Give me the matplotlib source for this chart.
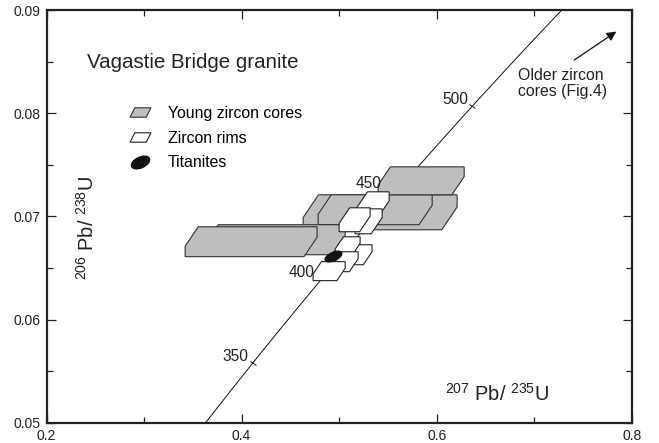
import numpy as np
import matplotlib
matplotlib.use('Agg')
import matplotlib.pyplot as plt
from matplotlib.patches import Polygon
from matplotlib.path import Path
from matplotlib.markers import MarkerStyle
from matplotlib.transforms import Affine2D
from matplotlib.lines import Line2D

plt.rcParams['font.family'] = ['Liberation Sans', 'DejaVu Sans']
plt.rcParams['mathtext.fontset'] = 'custom'
plt.rcParams['mathtext.rm'] = 'Liberation Sans'

# decay constants (1/yr) for the concordia curve
lam238 = 1.55125e-10
lam235 = 9.8485e-10
age_ticks = [350, 400, 450, 500]

# young zircon cores (2 sigma boxes): x = 207Pb/235U, y = 206Pb/238U
core_x_lo = [0.4631, 0.4785, 0.3626, 0.3421, 0.5400]
core_x_hi = [0.6210, 0.5954, 0.5062, 0.4774, 0.6282]
core_y_lo = [0.06870, 0.06919, 0.06628, 0.06609, 0.07209]
core_y_hi = [0.07209, 0.07209, 0.06919, 0.06899, 0.07480]

# zircon rims
rim_x_lo = [0.5174, 0.5164, 0.5000, 0.5082, 0.4959, 0.4938, 0.4733]
rim_x_hi = [0.5513, 0.5441, 0.5318, 0.5338, 0.5215, 0.5195, 0.5062]
rim_y_lo = [0.06986, 0.06831, 0.06851, 0.06531, 0.06619, 0.06464, 0.06377]
rim_y_hi = [0.07238, 0.07073, 0.07083, 0.06725, 0.06802, 0.06657, 0.06561]

# titanite
tit_x = [0.4933]
tit_y = [0.06616]


def hexbox(x0, x1, y0, y1, cut=0.65, slope=0.14):
    # error box with the two corners off the correlation cut away
    dy = (y1 - y0) * cut
    dx = dy / slope
    return [(x0, y0), (x0, y1 - dy), (x0 + dx, y1), (x1, y1),
            (x1, y0 + dy), (x1 - dx, y0)]


fig = plt.figure(figsize=(6.59, 4.43), dpi=100)
ax = fig.add_axes([0.0706, 0.0458, 0.888, 0.9316])
ax.set_xlim(0.2, 0.8)
ax.set_ylim(0.05, 0.09)

# concordia
t = np.linspace(280e6, 620e6, 400)
ax.plot(np.exp(lam235 * t) - 1, np.exp(lam238 * t) - 1, color='#111111', lw=0.7, zorder=1)

ta = np.array(age_ticks) * 1e6
tx = np.exp(lam235 * ta) - 1
ty = np.exp(lam238 * ta) - 1
tick_mk = MarkerStyle('|', transform=Affine2D().rotate_deg(49))
ax.plot(tx, ty, ls='none', marker=tick_mk, ms=5, mew=0.7, color='#111111', zorder=1)
offs = [(-3, -0.5), (-6, -1.5), (-10, 1), (-3, -0.5)]
for a, x, y, o in zip(age_ticks, tx, ty, offs):
    ax.annotate(str(a), (x, y), xytext=o, textcoords='offset points',
                ha='right', va='bottom', fontsize=11.2, color='#222222', zorder=6)

for x0, x1, y0, y1 in zip(core_x_lo, core_x_hi, core_y_lo, core_y_hi):
    ax.add_patch(Polygon(hexbox(x0, x1, y0, y1), closed=True, fc='#bebebe',
                         ec='#333333', lw=0.8, zorder=2))
for x0, x1, y0, y1 in zip(rim_x_lo, rim_x_hi, rim_y_lo, rim_y_hi):
    ax.add_patch(Polygon(hexbox(x0, x1, y0, y1), closed=True, fc='white',
                         ec='#222222', lw=0.8, zorder=3))

circ = Path.unit_circle()
ell_mk = MarkerStyle(circ, transform=Affine2D().scale(1, 0.45).rotate_deg(25))
ax.plot(tit_x, tit_y, ls='none', marker=ell_mk, ms=13, color='#111111', zorder=4)

# legend
para = Path([(-1, -0.45), (0.55, -0.45), (1, 0.45), (-0.55, 0.45), (-1, -0.45)],
            [1, 2, 2, 2, 79])
h1 = Line2D([], [], ls='none', marker=MarkerStyle(para), ms=15, mfc='#bebebe', mec='#333333', mew=0.8)
h2 = Line2D([], [], ls='none', marker=MarkerStyle(para), ms=15, mfc='white', mec='#222222', mew=0.8)
h3 = Line2D([], [], ls='none', marker=MarkerStyle(circ, transform=Affine2D().scale(1, 0.55).rotate_deg(25)),
            ms=14, color='#111111')
ax.legend([h1, h2, h3], ['Young zircon cores', 'Zircon rims', 'Titanites'],
          loc='upper left', bbox_to_anchor=(0.137, 0.768), frameon=False,
          fontsize=11.4, handlelength=1.7, handletextpad=0.9, labelspacing=0.62,
          borderpad=0, borderaxespad=0)

ax.text(0.0695, 0.874, 'Vagastie Bridge granite', transform=ax.transAxes,
        fontsize=14.8, color='#222222', va='center', ha='left')

ax.annotate('', xy=(0.7866, 0.08806), xytext=(0.7387, 0.0850),
            arrowprops=dict(arrowstyle='-|>', color='#111111', lw=0.9, mutation_scale=14))
ax.text(0.6835, 0.0829, 'Older zircon\ncores (Fig.4)', fontsize=11.4,
        color='#222222', ha='left', va='center', linespacing=1.1)

ax.text(0.662, 0.0528, r'$^{207}$ Pb/ $^{235}$U', fontsize=14.4, color='#222222',
        ha='center', va='center')
ax.text(0.2415, 0.0689, r'$^{206}$ Pb/ $^{238}$U', fontsize=14.4, color='#222222',
        ha='center', va='center', rotation=90)

ax.set_xticks([0.2, 0.4, 0.6, 0.8])
ax.set_xticklabels(['0.2', '0.4', '0.6', '0.8'])
ax.set_xticks([0.3, 0.5, 0.7], minor=True)
ax.set_yticks([0.05, 0.06, 0.07, 0.08, 0.09])
ax.set_yticklabels(['0.05', '0.06', '0.07', '0.08', '0.09'])
ax.set_yticks([0.055, 0.065, 0.075, 0.085], minor=True)
ax.tick_params(which='both', direction='in', top=True, right=True, width=0.9,
               colors='#222222', labelsize=10)
ax.tick_params(which='major', length=6.5, pad=4.5)
ax.tick_params(which='minor', length=4.3)
for s in ax.spines.values():
    s.set_linewidth(1.6)
    s.set_color('#222222')

fig.savefig('out.png', dpi=100)
